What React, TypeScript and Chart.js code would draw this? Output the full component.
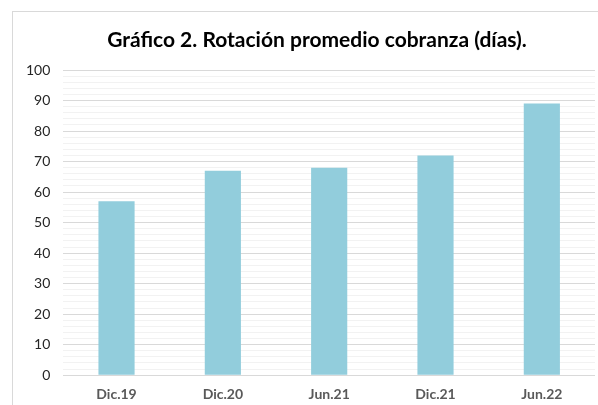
import React, { useEffect, useRef } from "react";
import { Chart, registerables } from "chart.js";

Chart.register(...registerables);

const categories = ["Dic.19", "Dic.20", "Jun.21", "Dic.21", "Jun.22"];
const values = [57, 67, 68, 72, 89];
const titleText = "Gráfico 2. Rotación promedio cobranza (días).";
const yMin = 0;
const yMax = 100;
const minorStep = 2;
const majorStep = 10;

const centeredTitle = {
  id: "centeredTitle",
  afterDraw(chart: any) {
    const ctx = chart.ctx;
    ctx.save();
    ctx.font = "bold 21px Lato";
    ctx.fillStyle = "#000000";
    ctx.textAlign = "center";
    ctx.textBaseline = "middle";
    ctx.fillText(titleText, chart.width / 2, 28);
    ctx.restore();
  },
};

export default function App() {
  const ref = useRef<HTMLCanvasElement | null>(null);

  useEffect(() => {
    if (!ref.current) return;
    const chart = new Chart(ref.current, {
      type: "bar",
      data: {
        labels: categories,
        datasets: [
          {
            data: values,
            backgroundColor: "#92CDDC",
            borderWidth: 0,
            categoryPercentage: 1,
            barPercentage: 0.34,
          },
        ],
      },
      plugins: [centeredTitle],
      options: {
        animation: false,
        responsive: false,
        maintainAspectRatio: false,
        layout: { padding: { left: 0, right: 26, top: 58, bottom: 10 } },
        plugins: {
          legend: { display: false },
          tooltip: { enabled: false },
          title: { display: false },
        },
        scales: {
          x: {
            grid: { display: false, drawTicks: false },
            border: { display: false },
            ticks: {
              color: "#595959",
              font: { family: "Lato", size: 14, weight: "bold" },
              padding: 11,
            },
          },
          y: {
            min: yMin,
            max: yMax,
            afterBuildTicks: (axis: any) => {
              const t = [];
              for (let v = yMin; v <= yMax; v += minorStep) t.push({ value: v });
              axis.ticks = t;
            },
            grid: {
              drawTicks: false,
              color: (ctx: any) =>
                ctx.tick && ctx.tick.value % majorStep === 0 ? "#d9d9d9" : "#f2f2f2",
              lineWidth: 1,
            },
            border: { display: false },
            ticks: {
              color: "#262626",
              font: { family: "Lato", size: 14 },
              padding: 13,
              autoSkip: false,
              callback: (v: any) => (Number(v) % majorStep === 0 ? String(v) : ""),
            },
          },
        },
      },
    });
    return () => chart.destroy();
  }, []);

  return (
    <div
      style={{
        position: "fixed",
        left: 0,
        top: 0,
        width: 598,
        height: 405,
        overflow: "hidden",
        background: "#ffffff",
      }}
    >
      <div
        style={{
          position: "absolute",
          left: 12,
          top: 11,
          width: 608,
          height: 412,
          border: "1px solid #d9d9d9",
          background: "#ffffff",
        }}
      >
        <canvas ref={ref} width={608} height={412} style={{ display: "block" }} />
      </div>
    </div>
  );
}
